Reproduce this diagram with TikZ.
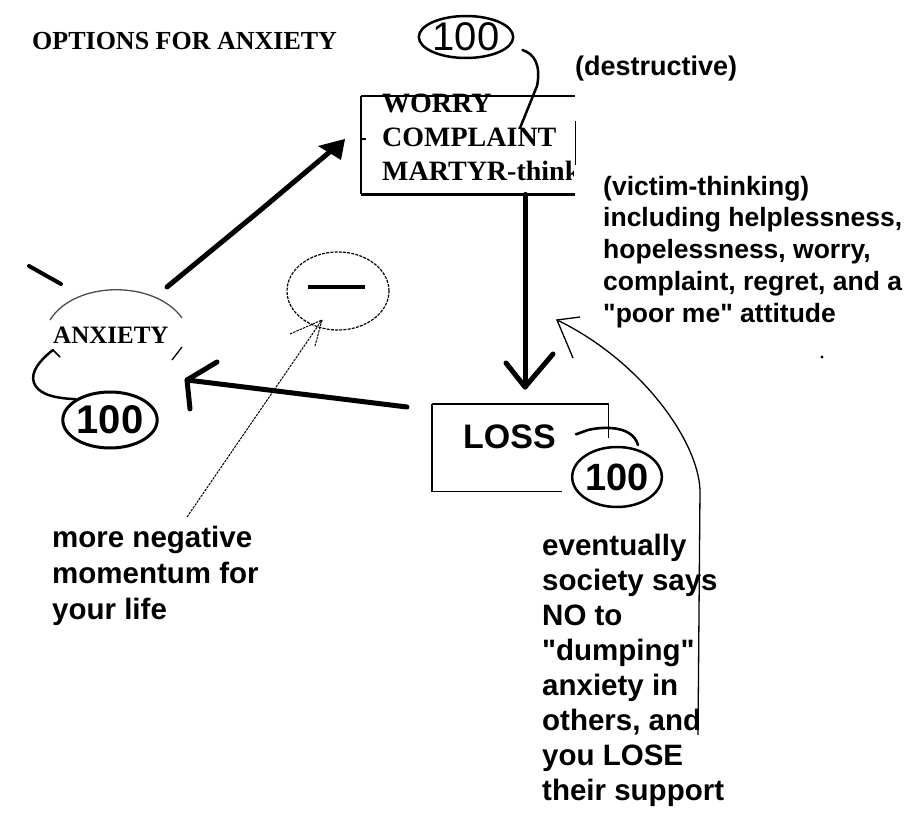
\documentclass[tikz,border=0pt]{standalone}
\usepackage{fontspec}
\setmainfont{Liberation Serif}
\newfontfamily\arialfont{Liberation Sans}
\usetikzlibrary{shapes.geometric,calc}
\begin{document}
\begin{tikzpicture}[x=1pt,y=-1pt,
  txt/.style={inner sep=0pt,anchor=base west,align=left},
  serifb/.style={font=\bfseries\fontsize{#1}{34}\selectfont},
  sansb/.style={font=\arialfont\bfseries\fontsize{#1}{35}\selectfont},
  ring/.style={ellipse,draw,inner sep=0pt,fill=white},
  heavy/.style={line width=5pt,line cap=round,line join=round},
  thinline/.style={line width=1.3pt},
  boxline/.style={line width=1.6pt}]
\useasboundingbox (0,0) rectangle (905,813);

% title
\node[txt,serifb=26] (title) at (32,50) {OPTIONS FOR ANXIETY};

% top 100
\node[ring,line width=2.5pt,minimum width=86pt,minimum height=42pt,
  font=\arialfont\fontsize{40}{40}\selectfont] (top100) at (466,37) {100};

% WORRY box
\node[inner sep=0pt,minimum width=214pt,minimum height=98pt,anchor=north west] (wbox) at (361,96) {};
\draw[boxline] (wbox.north west) -- (wbox.north east);
\draw[boxline] (wbox.north west) -- (wbox.south west);
\draw[line width=2.4pt] (wbox.south west) -- (wbox.south east);
\draw[boxline] ($(wbox.north east)+(0,25)$) -- ($(wbox.north east)+(0,69)$);
\draw[boxline] ($(wbox.north west)+(0,43)$) -- ($(wbox.north west)+(5,43)$);
\begin{scope}
  \clip (361,80) rectangle (573,200);
  \node[txt,serifb=28] (wtext) at (382,181) {WORRY\\COMPLAINT\\MARTYR-think};
\end{scope}

% hook from top 100 into the box
\coordinate (hookend) at (520,128);
\draw[line width=2.5pt,line cap=round] ($(top100.east)+(8,13)$) .. controls (535,54) and (541,66) .. (537,86) -- (hookend);

% (destructive)
\node[txt,sansb=27] (destr) at (575,76) {(destructive)};

% victim thinking text
\node[txt,font=\arialfont\bfseries\fontsize{26.5}{31.7}\selectfont] (victim) at (603,322)
  {(victim-thinking)\\including helplessness,\\hopelessness, worry,\\complaint, regret, and a\\"poor me" attitude};

% dot
\fill (822,357) circle (1.6pt);

% LOSS box
\node[inner sep=0pt,minimum width=176pt,minimum height=87pt,anchor=north west] (lossbox) at (432,404) {};
\draw[boxline] (lossbox.north west) -- (lossbox.north east) -- ($(lossbox.north east)+(0,34)$);
\draw[boxline] (lossbox.north west) -- (lossbox.south west) -- ($(lossbox.south west)+(130,0)$);
\node[txt,sansb=34] (loss) at (463,448) {LOSS};
\node[ring,line width=2.5pt,minimum width=80pt,minimum height=60pt,
  font=\arialfont\bfseries\fontsize{38}{40}\selectfont] (loss100) at (617,477) {100};
\draw[line width=2.6pt,line cap=round] (loss.east) ++(20,-2) -- (588,430) .. controls (600,427) and (632,424) .. (638,445);

% vertical arrow WORRY -> LOSS
\coordinate (vtip) at (525,387);
\draw[heavy] (wbox.south -| vtip) -- (vtip);
\draw[heavy] (506,363) -- (vtip) -- (553,354);

% ANXIETY
\node[txt,serifb=25] (anx) at (53,343) {ANXIETY};
\draw[thinline,gray!60!black] (50,320) .. controls (75,280) and (155,280) .. (182,318);
\draw[line width=4pt,line cap=round] (29,266) -- (61,284);
\draw[thinline] (172,360) -- (182,347);

% bottom-left 100
\node[ring,line width=3pt,minimum width=94pt,minimum height=56pt,
  font=\arialfont\bfseries\fontsize{40}{42}\selectfont] (anx100) at (110,420) {100};
\coordinate (anxhook) at (53,350);
\draw[line width=2.5pt,line cap=round] (anxhook) .. controls (40,360) and (30,372) .. (34,383) .. controls (38,392) and (48,398) .. (anx100.north west);
\draw[line width=1.5pt] (anxhook) -- (60,357);

% arrow ANXIETY -> WORRY
\coordinate (dstart) at (167,287);
\coordinate (dtip) at (345,139);
\draw[heavy] (dstart) -- (257,213) -- (332,150);
\fill (dtip) -- (318,146) -- (341,160) -- cycle;

% arrow LOSS -> ANXIETY
\coordinate (lstart) at (407,407);
\coordinate (ltip) at (187,380);
\draw[heavy] (lstart) -- (ltip);
\draw[heavy] (217,362) -- (ltip) -- (190,409);

% dashed circle with minus
\node[ellipse,draw,line width=1.2pt,dash pattern=on 3pt off 1.2pt,inner sep=0pt,
  minimum width=102pt,minimum height=78pt] (minus) at (338,291) {};
\draw[line width=4pt] (308,287) -- (365,287);

% more negative momentum
\node[txt,font=\arialfont\bfseries\fontsize{29.5}{36}\selectfont] (mom) at (52,619)
  {more negative\\momentum for\\your life};
\coordinate (mtip) at (322,320);
\draw[line width=1pt,dash pattern=on 2.5pt off 1pt] (187,517) -- (mtip);
\draw[line width=1pt,dash pattern=on 2.5pt off 1pt] (290,334) -- (mtip) -- (315,346);

% eventually text
\node[txt,font=\arialfont\bfseries\fontsize{29.5}{35}\selectfont] (event) at (542,800)
  {eventually\\society says\\NO to\\"dumping"\\anxiety in\\others, and\\you LOSE\\their support};
\coordinate (ctip) at (557,320);
\draw[thinline] (698,735) -- (700,490) .. controls (698,440) and (640,360) .. (ctip);
\draw[thinline] (580,317) -- (ctip) -- (573,358);
\end{tikzpicture}
\end{document}
